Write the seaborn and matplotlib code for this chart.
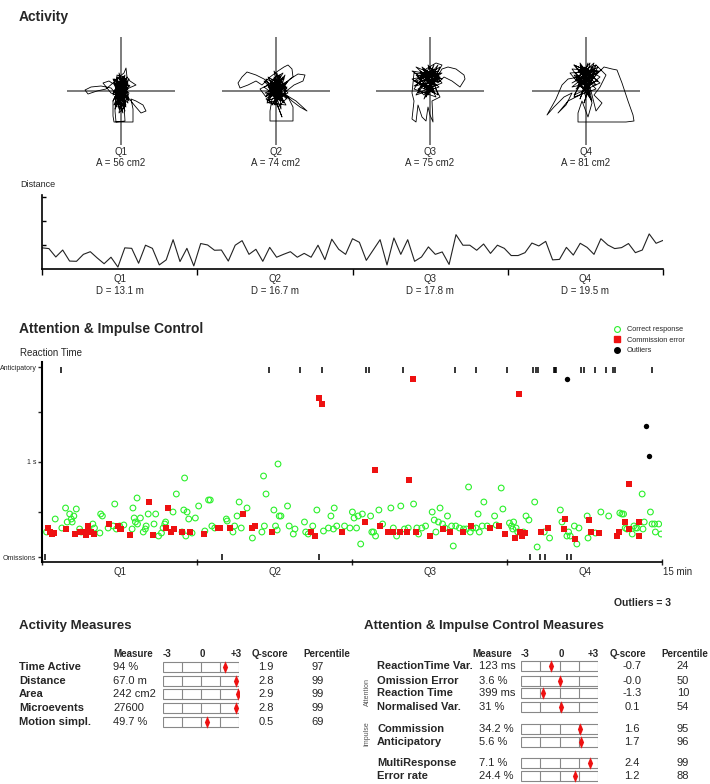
import numpy as np
import pandas as pd
import matplotlib
matplotlib.use("Agg")
import matplotlib.pyplot as plt
from matplotlib.patches import Rectangle
from matplotlib.lines import Line2D
import seaborn as sns

W, H = 710, 784

# ---------------- Activity: movement traces per quarter (cm from centre)
quarters = ["Q1", "Q2", "Q3", "Q4"]
areas = [56, 74, 75, 81]
quarter_dist = [13.1, 16.7, 17.8, 19.5]

trace_q1 = [(0, 0), (-4, 10), (3, -8), (-6, 5), (5, 12), (-3, -12), (6, 2), (-8, -4), (2, 15),
            (4, -15), (-5, 8), (7, -6), (-2, -18), (-7, 12), (5, 6), (1, -10), (-10, 3), (-20, 5),
            (-30, 4), (-36, 1), (-33, -3), (-24, 0), (-15, 2), (-8, 8), (-2, 14), (3, 18), (5, 23),
            (6, 14), (9, 10), (12, 8), (15, 6), (8, 3), (-4, -2), (-8, -10), (-8, -25), (-7, -31),
            (12, -31), (12, -18), (10, -8), (15, -10), (22, -14), (25, -20), (20, -22), (14, -15),
            (6, -5), (-3, 4), (-12, 10), (-18, 8), (-10, -2), (0, -6), (6, 12), (-4, 16), (-6, -20),
            (-5, -31), (4, -30), (3, -14), (8, -2), (-1, 6), (4, 9), (-6, -8), (2, -22), (-3, 0),
            (9, 5), (-2, 10), (3, -4), (-5, 2),
            (2, 8), (-6, -6), (7, 10), (-3, -16), (5, 4), (-8, 12), (4, -12), (-2, 18), (6, -2),
            (-7, -14), (3, 12), (8, -10), (-5, 6), (1, -20), (-4, 14), (7, 2), (-8, -2), (4, 16),
            (-1, -12), (6, 8), (-6, -18), (2, 4), (8, 12), (-4, -8), (5, -16), (-7, 8), (3, -4),
            (-2, 16), (7, -12), (-5, -2), (1, 10), (-8, -10), (6, 14), (-3, -6), (4, -20),
            (-6, 12), (2, -8), (8, 6), (-4, 4), (5, -14), (-2, -22), (3, 14), (-7, 0), (6, -8),
            (0, 12), (-5, -16), (7, 8), (-1, -4), (4, 10), (-3, -14), (0, 0)]
trace_q2 = [(0, 0), (-5, 8), (4, -10), (-8, 4), (6, 12), (-2, -14), (9, 3), (-10, -5), (3, 16),
            (5, -18), (-6, 10), (10, -6), (-12, 12), (-20, 16), (-29, 19), (-34, 14), (-38, 8),
            (-36, 3), (-28, 6), (-20, 10), (-14, 6), (-6, 14), (2, 20), (8, 24), (12, 26), (16, 22),
            (17, 14), (12, 10), (6, 4), (14, 12), (22, 17), (29, 16), (27, 10), (18, 6), (8, -2),
            (16, -10), (24, -16), (31, -20), (20, -10), (10, -4), (-4, -8), (-6, -20), (-6, -30),
            (17, -30), (17, -16), (12, -6), (2, -16), (6, -26), (-2, -4), (-8, 6), (-16, 2),
            (-10, -6), (4, 8), (-3, 12), (7, 18), (0, 6), (-9, -12), (5, -8), (11, 4), (-4, 2),
            (2, -2),
            (3, 10), (-8, -4), (10, 8), (-4, -14), (6, 2), (-12, 10), (8, -12), (-2, 14), (12, -2),
            (-9, -10), (4, 16), (11, -8), (-6, 6), (2, -16), (-10, 12), (9, 4), (-5, -6), (7, 14),
            (-1, -10), (12, 10), (-11, -2), (5, -4), (1, 18), (-7, -12), (10, -14), (-3, 8),
            (8, 12), (-12, 4), (4, -8), (-2, 20), (11, 2), (-8, 14), (6, -10), (-4, -2), (9, 16),
            (0, -14), (-10, -8), (7, 6), (-5, 12), (3, -2), (0, 0)]
trace_q3 = [(0, 0), (-12, 15), (8, 20), (-16, 5), (10, 10), (-8, 24), (5, -2), (-18, 12), (12, 18),
            (-4, 6), (4, 26), (-14, -4), (9, 4), (-10, 20), (2, 14), (-6, -8), (12, 22), (18, 24),
            (26, 22), (34, 16), (35, 12), (30, 4), (22, 10), (14, 14), (8, 8), (-2, 16), (-16, 18),
            (-18, -2), (-16, -10), (-18, -28), (-14, -31), (-12, -14), (-8, -26), (-4, -30),
            (-2, -16), (0, -24), (3, -31), (2, -10), (10, -6), (6, 2), (-10, 8), (-4, 22), (6, 28),
            (12, 26), (4, 12), (-12, 2), (-6, -4), (8, 14), (-2, 4), (-14, 10), (6, 18),
            (-10, 18), (6, 6), (-14, 24), (10, 14), (-6, 2), (4, 22), (-16, 10), (8, -4), (-2, 26),
            (12, 8), (-12, -2), (2, 18), (-8, 12), (10, 24), (-4, -6), (6, 16), (-18, 20), (0, 8),
            (8, 26), (-10, 4), (4, -2), (-14, 16), (12, 12), (-6, 22), (2, 0), (-12, 8), (10, 18),
            (-4, 14), (6, -6), (-16, 2), (0, 24), (8, 10), (-8, 18), (4, 6), (-2, -4), (0, 0)]
trace_q4 = [(0, 0), (-10, 14), (8, 22), (-14, 4), (12, 10), (-6, 26), (4, -6), (-16, 18), (14, 20),
            (-4, 8), (2, 28), (-12, -6), (10, 2), (-8, 22), (4, 16), (-18, 12), (-24, 6), (-30, -8),
            (-39, -24), (-32, -16), (-22, -6), (-14, -2), (-20, -14), (-28, -22), (-18, -10),
            (-6, -4), (6, 12), (18, 24), (26, 22), (31, 21), (36, 8), (42, -10), (47, -24),
            (48, -30), (40, -31), (20, -31), (0, -31), (-8, -31), (-8, -22), (-4, -10), (2, -26),
            (6, -12), (0, 6), (-10, 18), (10, 26), (20, 16), (14, 4), (8, -4), (16, -12), (10, -20),
            (4, 4), (-6, 12), (2, 20), (-12, 26), (-2, 14),
            (-8, 20), (6, 8), (-12, 26), (10, 16), (-4, -2), (12, 24), (-14, 8), (4, 18), (-6, -8),
            (8, 28), (-10, 12), (2, 4), (14, 14), (-2, 24), (6, -10), (-12, 16), (10, 6), (-6, 28),
            (0, 10), (12, 20), (-14, 22), (4, -2), (-8, 6), (8, 18), (-2, -12), (10, 26), (-10, 2),
            (2, 14), (-4, 22), (14, 8), (-12, -4), (6, 24), (0, -6), (-8, 14), (4, 28), (-2, 4),
            (0, 0)]
traces = [trace_q1, trace_q2, trace_q3, trace_q4]

# distance travelled per time bin (arbitrary units)
distance_bins = [0.88, 0.85, 0.50, 0.79, 0.33, 0.32, 0.61, 0.72, 0.46, 0.22, 0.49, 0.08, 0.88,
                 0.86, 0.24, 0.99, 0.86, 0.17, 0.38, 1.22, 0.31, 0.86, 0.13, 1.06, 1.00, 0.78,
                 0.79, 0.33, 0.99, 1.18, 0.61, 0.82, 0.32, 0.90, 0.49, 0.61, 0.72, 0.49, 0.65,
                 0.49, 0.99, 0.39, 1.24, 0.82, 0.61, 1.26,
                 1.11, 0.36, 0.79, 1.22, 0.17, 1.29, 0.61, 1.22, 0.32, 0.50, 0.92, 0.61, 0.71,
                 0.19, 1.43, 0.99, 0.99, 0.78, 1.04, 0.65, 0.99, 0.86, 0.56, 0.56, 0.68, 1.08,
                 0.96, 1.15, 0.38, 0.40, 0.90, 0.58, 1.07, 0.90, 0.61, 1.26, 1.00, 0.85, 0.89,
                 1.06, 0.68, 0.79, 1.46, 1.07, 1.19]

# ---------------- Attention & impulse control: reaction times
correct_t = [0.11, 0.32, 0.48, 0.57, 0.61, 0.67, 0.71, 0.73, 0.77, 0.83, 0.91, 0.95, 1.23, 1.27,
             1.40, 1.42, 1.46, 1.60, 1.72, 1.76, 1.80, 1.88, 1.98, 2.18, 2.20, 2.23, 2.26, 2.31,
             2.38, 2.30, 2.45, 2.50, 2.52, 2.57, 2.71, 2.75, 2.82, 2.89, 2.93, 2.97, 2.99, 3.17,
             3.25, 3.39, 3.43, 3.45, 3.48, 3.51, 3.55, 3.63, 3.71, 3.79, 3.94, 4.03, 4.07, 4.11,
             4.18, 4.46, 4.48, 4.62, 4.66, 4.72, 4.77, 4.82, 4.96, 5.09,
             5.32, 5.36, 5.38, 5.42, 5.61, 5.65, 5.69, 5.74, 5.78, 5.71, 5.94, 5.98, 6.08, 6.12,
             6.35, 6.38, 6.44, 6.55, 6.65, 6.81, 6.93, 6.99, 7.05, 7.07, 7.13, 7.32, 7.45, 7.51,
             7.55, 7.61, 7.65, 7.71, 7.75, 7.95, 7.98, 8.02, 8.07, 8.15, 8.24, 8.44, 8.50, 8.58,
             8.68, 8.77, 8.86, 8.99, 9.07, 9.11, 9.19, 9.28, 9.44, 9.49, 9.53, 9.59, 9.63, 9.69,
             9.75, 9.81, 9.91, 9.95, 10.01,
             10.10, 10.20, 10.27, 10.32, 10.36, 10.42, 10.50, 10.55, 10.58, 10.65, 10.69, 10.77,
             10.95, 10.99, 11.11, 11.15, 11.31, 11.36, 11.39, 11.41, 11.47, 11.51, 11.65, 11.71,
             11.78, 11.92, 11.98, 12.15, 12.28, 12.54, 12.58, 12.70, 12.74, 12.78, 12.88, 12.94,
             12.99, 13.19, 13.21, 13.39, 13.52, 13.71, 13.98, 14.03, 14.07, 14.11, 14.15, 14.28,
             14.32, 14.36, 14.40, 14.52, 14.54, 14.57, 14.72, 14.76, 14.82, 14.84, 14.92, 14.98]
correct_rt = [0.30, 0.43, 0.34, 0.54, 0.40, 0.48, 0.43, 0.40, 0.46, 0.53, 0.33, 0.30, 0.38, 0.34,
              0.29, 0.48, 0.46, 0.34, 0.36, 0.58, 0.33, 0.36, 0.37, 0.33, 0.54, 0.44, 0.40, 0.38,
              0.44, 0.64, 0.30, 0.33, 0.36, 0.48, 0.38, 0.48, 0.26, 0.29, 0.34, 0.38, 0.40, 0.50,
              0.68, 0.30, 0.52, 0.84, 0.26, 0.50, 0.43, 0.29, 0.44, 0.56, 0.31, 0.62, 0.62, 0.36,
              0.34, 0.43, 0.41, 0.30, 0.36, 0.46, 0.60, 0.34, 0.54, 0.24,
              0.30, 0.86, 0.36, 0.68, 0.52, 0.36, 0.32, 0.46, 0.46, 0.98, 0.56, 0.36, 0.28, 0.33,
              0.40, 0.30, 0.28, 0.36, 0.52, 0.31, 0.34, 0.46, 0.33, 0.54, 0.36, 0.36, 0.34, 0.50,
              0.44, 0.34, 0.46, 0.18, 0.48, 0.46, 0.30, 0.30, 0.26, 0.52, 0.38, 0.54, 0.34, 0.26,
              0.56, 0.33, 0.34, 0.58, 0.34, 0.28, 0.34, 0.36, 0.50, 0.42, 0.30, 0.40, 0.54, 0.38,
              0.34, 0.46, 0.36, 0.16, 0.36,
              0.34, 0.33, 0.33, 0.75, 0.30, 0.34, 0.34, 0.48, 0.30, 0.36, 0.60, 0.36,
              0.46, 0.37, 0.74, 0.53, 0.39, 0.36, 0.33, 0.40, 0.34, 0.30, 0.30, 0.46,
              0.42, 0.60, 0.15, 0.30, 0.24, 0.52, 0.40, 0.26, 0.30, 0.26, 0.36, 0.18,
              0.34, 0.46, 0.24, 0.29, 0.50, 0.46, 0.49, 0.48, 0.48, 0.34, 0.33, 0.28,
              0.36, 0.34, 0.34, 0.68, 0.33, 0.40, 0.50, 0.38, 0.38, 0.30, 0.38, 0.28]

commission_t = [0.15, 0.19, 0.24, 0.29, 0.59, 0.79, 0.91, 0.97, 1.06, 1.11, 1.11, 1.19, 1.26,
                1.62, 1.84, 1.88, 1.92, 2.12, 2.59, 2.69, 2.99, 3.05, 3.13, 3.19, 3.39, 3.57,
                3.91, 4.26, 4.30, 4.56, 4.86, 5.07, 5.15, 5.56, 6.51, 6.61, 6.70, 6.77, 7.25,
                7.82, 8.06, 8.18, 8.38, 8.49, 8.65, 8.82, 8.89, 8.97, 9.04, 9.39, 9.71, 9.87,
                10.18, 10.38, 10.85, 11.05, 11.21, 11.44, 11.54, 11.57, 11.61, 11.68, 12.08,
                12.24, 12.62, 12.65, 12.90, 13.24, 13.28, 13.47, 13.91, 13.95, 14.11, 14.19,
                14.21, 14.44, 14.45]
commission_rt = [0.34, 0.30, 0.28, 0.29, 0.33, 0.28, 0.30, 0.30, 0.27, 0.36, 0.30, 0.30, 0.28,
                 0.38, 0.36, 0.33, 0.33, 0.27, 0.60, 0.27, 0.34, 0.54, 0.30, 0.33, 0.30, 0.30,
                 0.28, 0.34, 0.34, 0.34, 0.48, 0.34, 0.36, 0.30, 0.30, 0.26, 1.64, 1.58, 0.30,
                 0.40, 0.92, 0.36, 0.30, 0.30, 0.30, 0.30, 0.82, 1.83, 0.30, 0.26, 0.33, 0.30,
                 0.30, 0.36, 0.34, 0.36, 0.28, 0.24, 1.68, 0.30, 0.26, 0.29, 0.30,
                 0.34, 0.33, 0.43, 0.23, 0.42, 0.30, 0.29, 0.26, 0.30, 0.40, 0.78,
                 0.33, 0.26, 0.40]

outlier_t = [12.71, 14.61, 14.69]
outlier_rt = [1.83, 1.36, 1.06]

anticipatory_t = [0.45, 5.50, 6.24, 6.77, 7.83, 7.90, 8.74, 9.98, 10.50, 11.24, 11.87, 11.94,
                  12.01, 12.39, 12.41, 12.44, 13.04, 13.11, 13.38, 13.65, 13.82, 13.87, 14.75]
omission_t = [0.07, 4.35, 6.71, 11.80, 12.04, 12.17, 12.70, 12.80]

# ---------------- measure tables
act_names = ["Time Active", "Distance", "Area", "Microevents", "Motion simpl."]
act_measures = ["94 %", "67.0 m", "242 cm2", "27600", "49.7 %"]
act_q = [1.9, 2.8, 2.9, 2.8, 0.5]
act_pct = [97, 99, 99, 99, 69]

aic_names = ["ReactionTime Var.", "Omission Error", "Reaction Time", "Normalised Var.",
             "Commission", "Anticipatory", "MultiResponse", "Error rate"]
aic_measures = ["123 ms", "3.6 %", "399 ms", "31 %", "34.2 %", "5.6 %", "7.1 %", "24.4 %"]
aic_q = [-0.7, -0.0, -1.3, 0.1, 1.6, 1.7, 2.4, 1.2]
aic_pct = [24, 50, 10, 54, 95, 96, 99, 88]

# ---------------- figure
sns.set_style("white")
plt.rcParams["font.family"] = ["Liberation Sans", "DejaVu Sans"]

fig = plt.figure(figsize=(W / 100, H / 100), dpi=100)


def px_axes(x0, y0, x1, y1):
    return fig.add_axes([x0 / W, 1 - y1 / H, (x1 - x0) / W, (y1 - y0) / H])


ov = px_axes(0, 0, W, H)
ov.set_xlim(0, W)
ov.set_ylim(H, 0)
ov.axis("off")

# ---- activity traces
ov.text(19, 17, "Activity", fontsize=10, fontweight="bold", va="center")
centres = [121, 276, 430, 586]
for i, cx in enumerate(centres):
    ax = px_axes(cx - 54, 37, cx + 54, 145)
    ax.set_xlim(-54, 54)
    ax.set_ylim(-54, 54)
    ax.axis("off")
    ax.axhline(0, color="#666666", lw=1.2, zorder=1)
    ax.axvline(0, color="#666666", lw=1.2, zorder=1)
    tr = pd.DataFrame(traces[i], columns=["x", "y"])
    sns.lineplot(data=tr, x="x", y="y", sort=False, estimator=None, color="black",
                 lw=0.6, ax=ax, zorder=2)
    ov.text(cx, 152, quarters[i], fontsize=7, ha="center", va="center")
    ov.text(cx, 163, f"A = {areas[i]} cm2", fontsize=7, ha="center", va="center")

# ---- distance over time
ov.text(20, 184, "Distance", fontsize=6.5, va="center")
axd = px_axes(42, 195, 663, 269)
t_bins = np.linspace(0, 15, len(distance_bins))
sns.lineplot(x=t_bins, y=distance_bins, color="#222222", lw=0.8, ax=axd)
axd.set_xlim(0, 15)
axd.set_ylim(0, 3.08)
axd.set_yticks([1, 2, 3])
axd.set_yticklabels([])
axd.set_xticks([0, 3.75, 7.5, 11.25, 15])
axd.set_xticklabels([])
axd.tick_params(axis="y", direction="in", length=3, width=1, color="black", left=True)
axd.tick_params(axis="x", direction="out", length=4, width=1, color="black", bottom=True)
for s in ["top", "right"]:
    axd.spines[s].set_visible(False)
for s in ["left", "bottom"]:
    axd.spines[s].set_color("black")
    axd.spines[s].set_linewidth(1.2)
q_mid = [120, 275, 430, 585]
for i, cx in enumerate(q_mid):
    ov.text(cx, 279, quarters[i], fontsize=7, ha="center", va="center")
    ov.text(cx, 291, f"D = {quarter_dist[i]} m", fontsize=7, ha="center", va="center")

# ---- reaction time scatter
ov.text(19, 329, "Attention & Impulse Control", fontsize=10, fontweight="bold", va="center")
ov.text(20, 353, "Reaction Time", fontsize=7, va="center")
axs = px_axes(42, 362, 662, 562)
sns.scatterplot(x=correct_t, y=correct_rt, marker="o", s=17, facecolor="none",
                edgecolor="#2cf02c", linewidth=0.8, ax=axs, zorder=3)
sns.scatterplot(x=commission_t, y=commission_rt, marker="s", s=15, color="#ee1111",
                linewidth=0, ax=axs, zorder=4)
sns.scatterplot(x=outlier_t, y=outlier_rt, marker="o", s=15, color="black",
                linewidth=0, ax=axs, zorder=4)
sns.scatterplot(x=anticipatory_t, y=[1.92] * len(anticipatory_t), marker="|", s=14,
                color="black", linewidth=1.1, ax=axs, zorder=3)
sns.scatterplot(x=omission_t, y=[0.05] * len(omission_t), marker="|", s=14,
                color="black", linewidth=1.1, ax=axs, zorder=3)
axs.set_xlim(0, 15)
axs.set_ylim(0, 2.0)
axs.set_yticks([0.05, 0.5, 1.0, 1.5, 1.95])
axs.set_yticklabels(["Omissions", "", "1 s", "", "Anticipatory"], fontsize=5)
axs.set_xticks([0, 3.75, 7.5, 11.25, 15])
axs.set_xticklabels([])
axs.tick_params(axis="y", direction="out", length=3, width=1, pad=1, left=True)
axs.tick_params(axis="x", direction="inout", length=5, width=1, bottom=True)
for s in ["top", "right"]:
    axs.spines[s].set_visible(False)
axs.spines["left"].set_linewidth(1.5)
axs.spines["bottom"].set_linewidth(1.2)
for s in ["left", "bottom"]:
    axs.spines[s].set_color("black")
handles = [Line2D([], [], ls="", marker="o", ms=4.2, mfc="none", mec="#2cf02c", mew=0.8),
           Line2D([], [], ls="", marker="s", ms=4, mfc="#ee1111", mec="#ee1111"),
           Line2D([], [], ls="", marker="o", ms=4, mfc="black", mec="black")]
axs.legend(handles, ["Correct response", "Commission error", "Outliers"],
           loc="upper left", bbox_to_anchor=(614 / W, 1 - 326 / H),
           bbox_transform=fig.transFigure, frameon=False, fontsize=5.3, borderpad=0,
           borderaxespad=0, handletextpad=0.9, labelspacing=0.45, handlelength=0.8)
for i, cx in enumerate(q_mid):
    ov.text(cx, 572, quarters[i], fontsize=7, ha="center", va="center")
ov.text(663, 572, "15 min", fontsize=7, ha="left", va="center")
ov.text(671, 603, f"Outliers = {len(outlier_t)}", fontsize=7.5, fontweight="bold",
        ha="right", va="center")


# ---- measure tables
def gauge(x0, x1, rows_y, qscores):
    g = px_axes(x0, 0, x1, H)
    g.set_xlim(-3, 3)
    g.set_ylim(H, 0)
    g.axis("off")
    for y in rows_y:
        g.add_patch(Rectangle((-3, y - 5), 6, 10, facecolor="white", edgecolor="#888888",
                              lw=0.8, zorder=1))
        g.vlines([-1.5, 0, 1.5], y - 5, y + 5, color="#888888", lw=0.8, zorder=1)
    diamond = [(0, 1), (0.42, 0), (0, -1), (-0.42, 0), (0, 1)]
    sns.scatterplot(x=np.clip(qscores, -3, 3), y=rows_y, marker=diamond, s=80,
                    color="#ee1111", linewidth=0, ax=g, zorder=3)
    g.set_xlim(-3, 3)
    g.set_ylim(H, 0)


hdr = dict(fontsize=7, fontweight="bold", va="center")
row = dict(fontsize=8, va="center")

ov.text(19, 626, "Activity Measures", fontsize=9.5, fontweight="bold", va="center")
act_y = [667, 681, 694, 708, 722]
ov.text(113, 654, "Measure", **hdr)
ov.text(163, 654, "-3", **hdr)
ov.text(202, 654, "0", ha="center", **hdr)
ov.text(242, 654, "+3", ha="right", **hdr)
ov.text(252, 654, "Q-score", **hdr)
ov.text(303, 654, "Percentile", **hdr)
for i, y in enumerate(act_y):
    ov.text(19, y, act_names[i], fontweight="bold", **row)
    ov.text(113, y, act_measures[i], **row)
    ov.text(266, y, f"{act_q[i]:.1f}", ha="center", **row)
    ov.text(318, y, str(act_pct[i]), ha="center", **row)
gauge(163, 239, act_y, act_q)

ov.text(364, 626, "Attention & Impulse Control Measures", fontsize=9.5, fontweight="bold",
        va="center")
aic_y = [666, 681, 693, 707, 729, 742, 763, 776]
ov.text(472, 654, "Measure", **hdr)
ov.text(521, 654, "-3", **hdr)
ov.text(561, 654, "0", ha="center", **hdr)
ov.text(599, 654, "+3", ha="right", **hdr)
ov.text(610, 654, "Q-score", **hdr)
ov.text(661, 654, "Percentile", **hdr)
for i, y in enumerate(aic_y):
    ov.text(377, y, aic_names[i], fontweight="bold", **row)
    ov.text(479, y, aic_measures[i], **row)
    ov.text(632, y, f"{aic_q[i]:.1f}", ha="center", **row)
    ov.text(683, y, str(aic_pct[i]), ha="center", **row)
ov.text(367, 692, "Attention", fontsize=5, color="#555555", rotation=90, ha="center",
        va="center")
ov.text(367, 734, "Impulse", fontsize=5, color="#555555", rotation=90, ha="center",
        va="center")
gauge(521, 598, aic_y, aic_q)

fig.savefig("out.png", dpi=100)
